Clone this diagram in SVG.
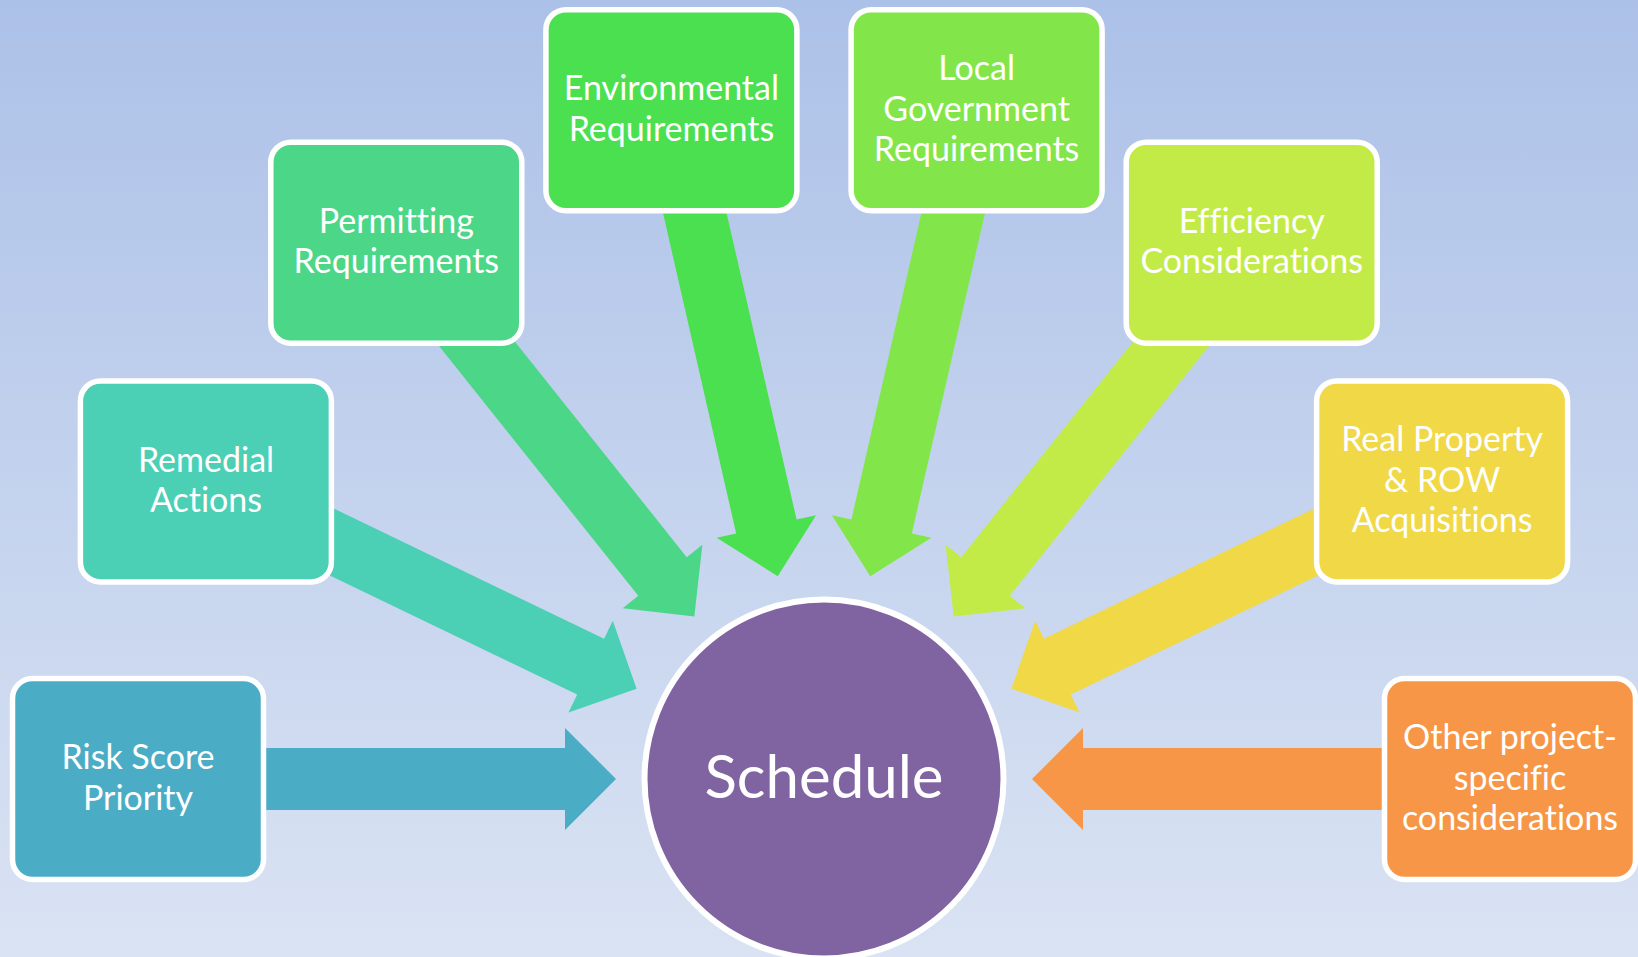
<svg xmlns="http://www.w3.org/2000/svg" width="1638" height="957" viewBox="0 0 1638 957">
  <defs>
    <linearGradient id="bg" x1="0" y1="0" x2="0" y2="1">
      <stop offset="0" stop-color="#ACC1E8"/>
      <stop offset="1" stop-color="#DAE3F3"/>
    </linearGradient>
    <polygon id="arrow" points="-686,-31 -259,-31 -259,-51 -208,0 -259,51 -259,31 -686,31"/>
  </defs>
  <style>
    .box { stroke: #FFFFFF; stroke-width: 5.5; }
    .lbl { font-family: Lato, "Open Sans", sans-serif; font-size: 34px; fill: #FFFFFF; text-anchor: middle; font-variant-ligatures: none; font-feature-settings: "liga" 0, "clig" 0; }
    .big { font-family: Lato, "Open Sans", sans-serif; font-size: 60px; fill: #FFFFFF; text-anchor: middle; }
  </style>
  <rect x="0" y="0" width="1638" height="957" fill="url(#bg)"/>

  <g id="connectors" transform="translate(824,779)">
    <use href="#arrow" fill="#4BACC6" transform="rotate(0)"/>
    <use href="#arrow" fill="#4BCFB5" transform="rotate(25.714)"/>
    <use href="#arrow" fill="#4BD787" transform="rotate(51.429)"/>
    <use href="#arrow" fill="#4BE04F" transform="rotate(77.143)"/>
    <use href="#arrow" fill="#82E64A" transform="rotate(102.857)"/>
    <use href="#arrow" fill="#C3EB48" transform="rotate(128.571)"/>
    <use href="#arrow" fill="#F0D847" transform="rotate(154.286)"/>
    <use href="#arrow" fill="#F79646" transform="rotate(180)"/>
  </g>

  <g id="node-risk">
    <rect class="box" x="12.5" y="678.5" width="251" height="201" rx="20" fill="#4BACC6"/>
    <text class="lbl" x="138" y="769">Risk Score</text>
    <text class="lbl" x="138" y="809.5">Priority</text>
  </g>
  <g id="node-remedial">
    <rect class="box" x="80.4" y="380.9" width="251" height="201" rx="20" fill="#4BCFB5"/>
    <text class="lbl" x="206" y="471.5">Remedial</text>
    <text class="lbl" x="206" y="512">Actions</text>
  </g>
  <g id="node-permitting">
    <rect class="box" x="270.8" y="142.2" width="251" height="201" rx="20" fill="#4BD787"/>
    <text class="lbl" x="396.3" y="232.7">Permitting</text>
    <text class="lbl" x="396.3" y="273.2">Requirements</text>
  </g>
  <g id="node-environmental">
    <rect class="box" x="545.9" y="9.7" width="251" height="201" rx="20" fill="#4BE04F"/>
    <text class="lbl" x="671.4" y="100.2">Environmental</text>
    <text class="lbl" x="671.4" y="140.7">Requirements</text>
  </g>
  <g id="node-localgov">
    <rect class="box" x="851.1" y="9.7" width="251" height="201" rx="20" fill="#82E64A"/>
    <text class="lbl" x="976.6" y="80.2">Local</text>
    <text class="lbl" x="976.6" y="120.7">Government</text>
    <text class="lbl" x="976.6" y="161.2">Requirements</text>
  </g>
  <g id="node-efficiency">
    <rect class="box" x="1126.2" y="142.2" width="251" height="201" rx="20" fill="#C3EB48"/>
    <text class="lbl" x="1251.7" y="232.7">Efficiency</text>
    <text class="lbl" x="1251.7" y="273.2">Considerations</text>
  </g>
  <g id="node-realproperty">
    <rect class="box" x="1316.6" y="380.9" width="251" height="201" rx="20" fill="#F0D847"/>
    <text class="lbl" x="1442.1" y="451.4">Real Property</text>
    <text class="lbl" x="1442.1" y="491.9">&amp; ROW</text>
    <text class="lbl" x="1442.1" y="532.4">Acquisitions</text>
  </g>
  <g id="node-other">
    <rect class="box" x="1384.5" y="678.5" width="251" height="201" rx="20" fill="#F79646"/>
    <text class="lbl" x="1510" y="749">Other project-</text>
    <text class="lbl" x="1510" y="789.5">specific</text>
    <text class="lbl" x="1510" y="830">considerations</text>
  </g>
  <g id="node-schedule">
    <circle cx="824" cy="779" r="179.5" fill="#8064A2" stroke="#FFFFFF" stroke-width="6"/>
    <text class="big" x="824" y="798">Schedule</text>
  </g>
</svg>
